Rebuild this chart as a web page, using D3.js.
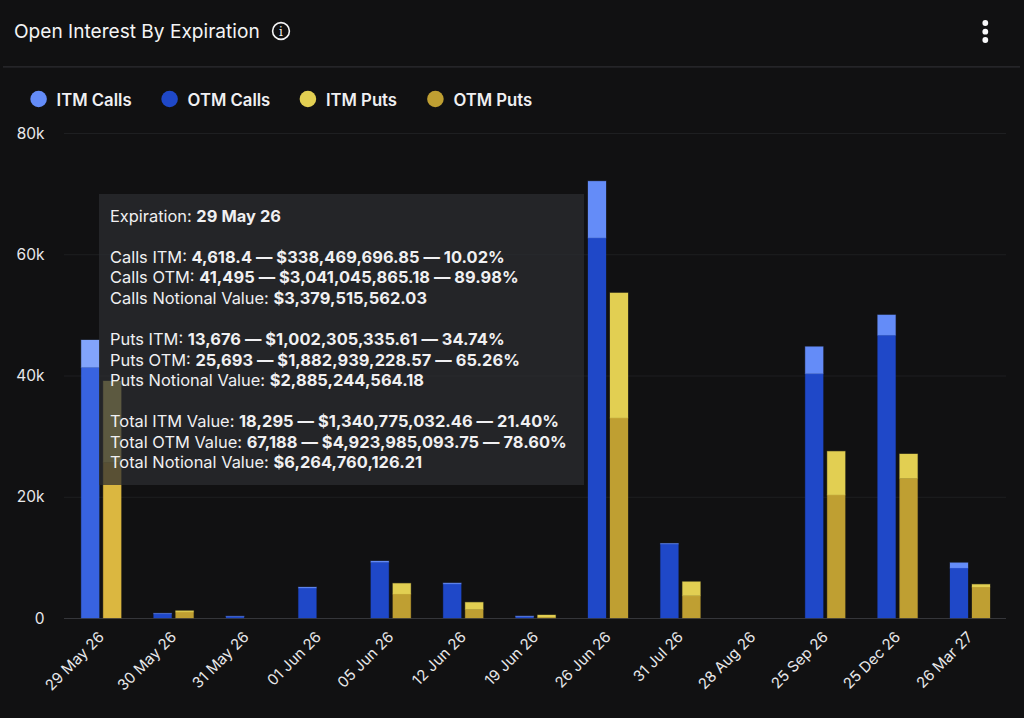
<!DOCTYPE html>
<html><head><meta charset="utf-8">
<script src="https://cdn.jsdelivr.net/npm/d3@7/dist/d3.min.js"></script>
<style>html,body{margin:0;padding:0;background:#111112;overflow:hidden}svg{display:block;font-family:Inter,sans-serif}</style>
</head><body><svg id="c" width="1024" height="718"></svg>
<script>
const categories=["29 May 26","30 May 26","31 May 26","01 Jun 26","05 Jun 26","12 Jun 26","19 Jun 26","26 Jun 26","31 Jul 26","28 Aug 26","25 Sep 26","25 Dec 26","26 Mar 27"];
const otmCalls=[41350,700,250,4950,9200,5630,230,62700,12200,0,40300,46650,8250];
const itmCalls=[4506,80,50,150,200,150,100,9360,100,0,4460,3350,870];
const otmPuts=[25693,1000,0,0,3960,1435,150,33000,3680,0,20300,23050,5110];
const itmPuts=[13400,200,0,0,1760,1155,350,20630,2310,0,7200,4010,450];
const yTicks=[0,20000,40000,60000,80000];
const legendLabels=["ITM Calls","OTM Calls","ITM Puts","OTM Puts"];
const legendColors=["#648cf8","#1f48c8","#e2cf52","#bf9f32"];
const tooltipLines=[
[["Expiration: ",0],["29 May 26",1]],[],
[["Calls ITM: ",0],["4,618.4 — $338,469,696.85 — 10.02%",1]],
[["Calls OTM: ",0],["41,495 — $3,041,045,865.18 — 89.98%",1]],
[["Calls Notional Value: ",0],["$3,379,515,562.03",1]],[],
[["Puts ITM: ",0],["13,676 — $1,002,305,335.61 — 34.74%",1]],
[["Puts OTM: ",0],["25,693 — $1,882,939,228.57 — 65.26%",1]],
[["Puts Notional Value: ",0],["$2,885,244,564.18",1]],[],
[["Total ITM Value: ",0],["18,295 — $1,340,775,032.46 — 21.40%",1]],
[["Total OTM Value: ",0],["67,188 — $4,923,985,093.75 — 78.60%",1]],
[["Total Notional Value: ",0],["$6,264,760,126.21",1]]
];
const svg=d3.select("#c");
const x=d3.scaleBand().domain(categories).range([64.8,1006]);
const y=d3.scaleLinear().domain([0,80000]).range([618,133]);
// header
svg.append("text").attr("x",14).attr("y",37.5).attr("fill","#f4f4f5").attr("font-size",19.1).text("Open Interest By Expiration");
const info=svg.append("g").attr("transform","translate(281,31)");
info.append("circle").attr("r",8.4).attr("fill","none").attr("stroke","#f4f4f5").attr("stroke-width",1.6);
info.append("text").attr("text-anchor","middle").attr("y",4.5).attr("font-size",12).attr("font-weight",400).attr("font-family","DejaVu Serif").attr("fill","#f4f4f5").text("i");
svg.selectAll("circle.dot").data([23,31.7,40]).join("circle").attr("class","dot").attr("cx",985.3).attr("cy",d=>d).attr("r",2.9).attr("fill","#f8f8f9");
svg.append("line").attr("x1",3).attr("x2",1020).attr("y1",66.8).attr("y2",66.8).attr("stroke","#2c2d30").attr("stroke-width",1.3);
// legend
const legX=[38.6,169.6,307.9,435.4];
legendLabels.forEach((l,i)=>{
 svg.append("circle").attr("cx",legX[i]).attr("cy",99).attr("r",8.3).attr("fill",legendColors[i]);
 svg.append("text").attr("x",legX[i]+18).attr("y",105.5).attr("font-size",16.7).attr("font-weight",600).attr("fill","#f0f0f2").text(l);
});
// grid
svg.append("g").selectAll("line").data(yTicks.filter(d=>d>0)).join("line").attr("x1",64).attr("x2",1006).attr("y1",d=>y(d)+.5).attr("y2",d=>y(d)+.5).attr("stroke","#1e1f21");
svg.append("line").attr("x1",64).attr("x2",1006).attr("y1",y(0)+.5).attr("y2",y(0)+.5).attr("stroke","#35363a").attr("stroke-width",1.2);
svg.append("g").selectAll("text").data(yTicks).join("text").attr("x",44.5).attr("y",d=>y(d)+5.5).attr("text-anchor","end").attr("font-size",15.5).attr("fill","#e8e8ea").text(d=>d?d/1000+"k":"0");
// bars
const bw=18;
function stack(vals,top,dx,c0,c1,hot0,hot1){
 const g=svg.append("g");
 g.selectAll("rect.o").data(categories).join("rect").attr("class","o").attr("x",d=>x(d)+x.bandwidth()/2+dx).attr("width",bw)
  .attr("y",(d,i)=>y(vals[i])).attr("height",(d,i)=>y(0)-y(vals[i])).attr("fill",(d,i)=>i?c0:hot0)
  .attr("stroke",(d,i)=>i?c0:hot0).attr("stroke-opacity",.3).attr("display",(d,i)=>vals[i]?null:"none");
 g.selectAll("rect.i").data(categories).join("rect").attr("class","i").attr("x",d=>x(d)+x.bandwidth()/2+dx).attr("width",bw)
  .attr("y",(d,i)=>y(vals[i]+top[i])).attr("height",(d,i)=>y(vals[i])-y(vals[i]+top[i])).attr("fill",(d,i)=>i?c1:hot1)
  .attr("stroke",(d,i)=>i?c1:hot1).attr("stroke-opacity",.3).attr("display",(d,i)=>top[i]?null:"none");
}
stack(otmCalls,itmCalls,-19.8,legendColors[1],legendColors[0],"#3863e0","#82a4fb");
stack(otmPuts,itmPuts,2.2,legendColors[3],legendColors[2],"#dbb740","#e8d86c");
// x labels
svg.append("g").selectAll("text").data(categories).join("text")
 .attr("transform",d=>`translate(${x(d)+x.bandwidth()/2+4},${638}) rotate(-45)`).attr("text-anchor","end").attr("font-size",15).attr("fill","#e8e8ea").text(d=>d);
// tooltip
svg.append("rect").attr("x",99).attr("y",194).attr("width",485).attr("height",291).attr("fill","#2b2c31").attr("fill-opacity",.74);
const tl=svg.append("g");
tooltipLines.forEach((ln,i)=>{ if(!ln.length) return;
 const t=tl.append("text").attr("x",110).attr("y",221.5+i*20.58).attr("font-size",16.4).attr("fill","#f0f0f2");
 ln.forEach(s=>t.append("tspan").attr("font-weight",s[1]?700:400).attr("letter-spacing",s[1]?.06:0).text(s[0]));
});
</script></body></html>
